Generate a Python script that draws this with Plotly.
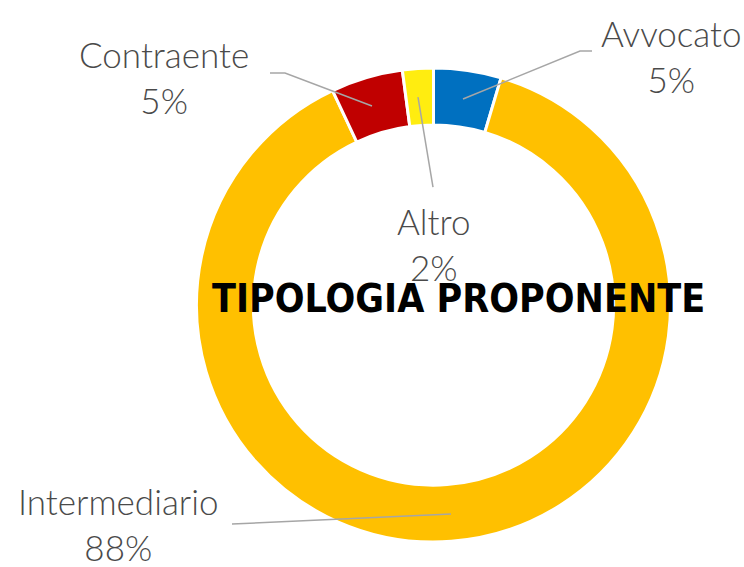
import plotly.graph_objects as go

W, H = 744, 567

categories = ["Avvocato", "Intermediario", "Contraente", "Altro"]
values = [4.6, 88.4, 4.9, 2.1]
pct_labels = ["5%", "88%", "5%", "2%"]
colors = ["#0070C0", "#FFC000", "#C00000", "#FFED10"]

# label centre positions (pixels) and leader lines (pixels)
label_pos = {
    "Avvocato": (671, 56),
    "Intermediario": (118, 524),
    "Contraente": (164, 77),
    "Altro": (433, 244),
}
leaders = {
    "Avvocato": [(463, 99), (580, 51), (592, 51)],
    "Intermediario": [(451, 514), (232, 524)],
    "Contraente": [(372, 106), (285, 73), (270, 73)],
    "Altro": [(418, 97), (433, 187)],
}

def px(x):
    return x / W

def py(y):
    return 1 - y / H

cx, cy, r = 433.5, 305, 237

fig = go.Figure(go.Pie(
    labels=categories,
    values=values,
    hole=0.76,
    sort=False,
    direction="clockwise",
    rotation=0,
    marker=dict(colors=colors, line=dict(color="white", width=3)),
    textinfo="none",
    hoverinfo="label+percent",
    domain=dict(x=[px(cx - r), px(cx + r)], y=[py(cy + r), py(cy - r)]),
    showlegend=False,
))

shapes = []
for name, pts in leaders.items():
    path = "M " + " L ".join(f"{px(x):.5f},{py(y):.5f}" for x, y in pts)
    shapes.append(dict(type="path", xref="paper", yref="paper", path=path,
                       line=dict(color="#A6A6A6", width=1.5)))

annotations = []
for name, pct in zip(categories, pct_labels):
    x, y = label_pos[name]
    annotations.append(dict(
        x=px(x), y=py(y), xref="paper", yref="paper",
        text=f"{name}<br>{pct}", showarrow=False,
        xanchor="center", yanchor="middle", align="center",
        font=dict(family="Lato, Open Sans, sans-serif", size=35, color="#4A4A4A", weight=300),
    ))

annotations.append(dict(
    x=px(458), y=py(298), xref="paper", yref="paper",
    text="<b>TIPOLOGIA PROPONENTE</b>", showarrow=False,
    xanchor="center", yanchor="middle",
    font=dict(family="DejaVu Sans Condensed", size=39, color="black"),
))

fig.update_layout(
    width=W, height=H,
    margin=dict(l=0, r=0, t=0, b=0),
    paper_bgcolor="white", plot_bgcolor="white",
    shapes=shapes,
    annotations=annotations,
)

fig.write_html("out.html")
